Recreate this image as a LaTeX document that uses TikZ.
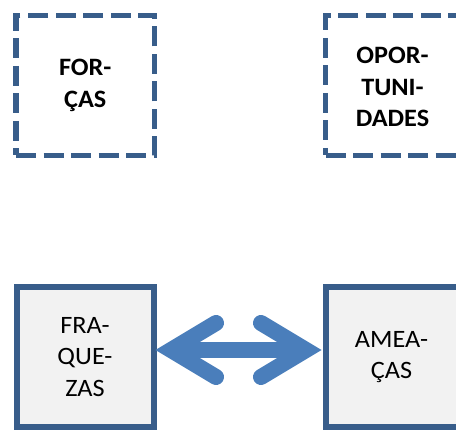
\documentclass[tikz,border=0pt]{standalone}
\usepackage{fontspec}
\setmainfont{Carlito}[FakeStretch=1.05]
\usetikzlibrary{calc}
\definecolor{edgeblue}{RGB}{56,93,138}
\definecolor{boxgray}{RGB}{242,242,242}
\definecolor{arrowblue}{RGB}{74,126,187}
\tikzset{
  label text/.style={align=center, font=\fontsize{25}{31.5}\selectfont, text=black},
  bold text/.style={label text, font=\fontsize{25}{31.5}\selectfont\bfseries},
  dashbox/.style={bold text, draw=edgeblue, line width=5.5pt, dash pattern=on 20pt off 7.5pt,
    minimum width=138.5pt, minimum height=140pt, inner sep=0pt},
  solidbox/.style={label text, draw=edgeblue, fill=boxgray, line width=6pt,
    minimum width=137pt, minimum height=140pt, inner sep=0pt},
  % boxes running past the right margin keep their text inside the visible part
  openbox/.style={minimum width=180pt},
  arrowline/.style={draw=arrowblue, line width=16pt, line join=miter},
}
\begin{document}
\begin{tikzpicture}[x=1pt,y=-1pt]
  \useasboundingbox (0,0) rectangle (456,430);
  \clip (0,0) rectangle (456,430);

  % top row: dashed boxes
  \node[dashbox] (forcas) at (85.25,85.5) {FOR-\\ÇAS};
  \node[dashbox, openbox,
        label={[bold text, xshift=-23pt, yshift=-1.5pt]center:{OPOR-\\TUNI-\\DADES}}]
        (oport) at (415.5,85.5) {};

  % bottom row: filled boxes
  \node[solidbox] (fraq) at (85,357) {FRA-\\QUE-\\ZAS};
  \node[solidbox, openbox,
        label={[label text, xshift=-24.5pt]center:{AMEA-\\ÇAS}}]
        (amea) at (416,357) {};

  % double-headed block arrow between the bottom boxes
  \coordinate (lv) at (171,350);
  \coordinate (rv) at (306,350);
  \draw[arrowline, line cap=butt] (lv) -- (rv);
  \draw[arrowline, line cap=round] ($(lv)+(45,-27)$) -- (lv) -- ($(lv)+(45,27)$);
  \draw[arrowline, line cap=round] ($(rv)+(-45,-27)$) -- (rv) -- ($(rv)+(-45,27)$);
\end{tikzpicture}
\end{document}
